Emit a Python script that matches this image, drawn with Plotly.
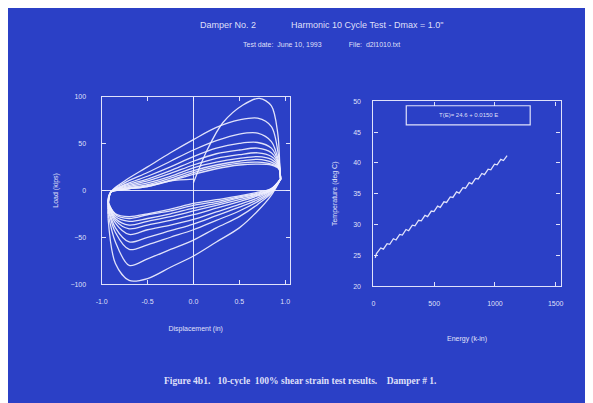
import plotly.graph_objects as go

# ---- hysteresis data (displacement in, load kips) ----
disp_up = [-0.93, -0.9, -0.75, -0.5, -0.25, 0.0, 0.25, 0.5, 0.7, 0.85, 0.93, 0.95]
disp_dn = [0.95, 0.85, 0.7, 0.5, 0.25, 0.0, -0.25, -0.5, -0.7, -0.85, -0.93]

virgin_disp = [0.0, 0.15, 0.32, 0.54, 0.72, 0.85, 0.92, 0.94, 0.95]
virgin_load = [8, 43, 72, 91, 98, 90, 60, 30, 12]

lower_loads = [
    [12, -5, -22, -40, -55, -70, -82, -94, -96, -78, -30],
    [12, -3, -15, -28, -40, -53, -63, -73, -80, -55, -25],
    [12, -2, -12, -22, -32, -42, -50, -58, -63, -45, -20],
    [12, -1, -10, -18, -27, -36, -43, -50, -55, -40, -18],
    [12, 0, -8, -15, -23, -31, -37, -42, -47, -35, -16],
    [12, 0, -6, -12, -19, -26, -32, -37, -41, -32, -15],
    [12, 1, -5, -10, -16, -22, -28, -33, -37, -30, -14],
    [12, 1, -4, -8, -14, -19, -25, -30, -33, -28, -13],
    [12, 2, -3, -7, -12, -16, -22, -26, -30, -26, -12],
    [12, 2, -2, -6, -10, -14, -20, -25, -28, -25, -12],
]

upper_loads = [
    [-30, -2, 10, 25, 40, 54, 67, 75, 77, 68, 35, 12],
    [-25, -2, 8, 19, 31, 43, 53, 60, 61, 52, 30, 12],
    [-20, -2, 6, 15, 25, 36, 45, 50, 51, 45, 28, 12],
    [-18, -2, 5, 12, 21, 31, 39, 43, 45, 40, 27, 12],
    [-16, -2, 4, 10, 18, 27, 34, 38, 40, 36, 26, 12],
    [-15, -2, 3, 8, 15, 24, 30, 34, 36, 33, 25, 12],
    [-14, -2, 2, 6, 13, 21, 27, 31, 33, 30, 24, 12],
    [-13, -2, 1, 5, 11, 19, 25, 29, 30, 28, 24, 12],
    [-12, -2, 1, 4, 10, 17, 23, 27, 28, 27, 23, 12],
]

final_disp = [-0.93, -0.9, -0.75, -0.5, -0.25, 0.0]
final_load = [-12, -2, 1, 4, 10, 12]

# ---- temperature vs energy ----
energy = [15, 25, 60, 82, 112, 134, 164, 186, 216, 238, 268, 290, 320, 342, 372, 394,
          424, 446, 476, 498, 528, 550, 580, 602, 632, 654, 684, 706, 736, 758, 788, 810,
          840, 862, 892, 914, 944, 966, 996, 1018, 1048, 1070, 1100]
temp = [24.6, 25.3, 26.2, 26.0, 26.9, 26.8, 27.7, 27.5, 28.4, 28.3, 29.2, 29.0, 29.9, 29.8,
        30.7, 30.6, 31.5, 31.3, 32.2, 32.1, 33.0, 32.8, 33.7, 33.6, 34.5, 34.4, 35.3, 35.1,
        36.0, 35.9, 36.8, 36.6, 37.5, 37.4, 38.3, 38.1, 39.0, 38.9, 39.8, 39.7, 40.6, 40.4, 41.2]

bg = '#2b40c6'
fg = 'rgba(240,240,255,0.92)'
line = dict(color=fg, width=1.3, shape='spline', smoothing=0.9)

fig = go.Figure()

# first cycle starts from the virgin loading curve
fig.add_trace(go.Scatter(x=virgin_disp + disp_dn, y=virgin_load + lower_loads[0],
                         mode='lines', line=line, xaxis='x', yaxis='y'))
for up, dn in zip(upper_loads, lower_loads[1:]):
    fig.add_trace(go.Scatter(x=disp_up + disp_dn, y=up + dn,
                             mode='lines', line=line, xaxis='x', yaxis='y'))
fig.add_trace(go.Scatter(x=final_disp, y=final_load, mode='lines', line=line,
                         xaxis='x', yaxis='y'))

fig.add_trace(go.Scatter(x=energy, y=temp, mode='lines',
                         line=dict(color=fg, width=1.3), xaxis='x2', yaxis='y2'))

ax = dict(showgrid=False, showline=True, linecolor=fg, linewidth=1.2, mirror='allticks',
          ticks='inside', ticklen=4, tickcolor=fg, tickfont=dict(size=7, color=fg, family='Arial'),
          zeroline=False)

fig.update_layout(
    width=593, height=403, showlegend=False,
    paper_bgcolor=bg, plot_bgcolor=bg,
    margin=dict(l=0, r=0, t=0, b=0),
    font=dict(family='Arial', color=fg),
    xaxis=dict(ax, domain=[0.1501, 0.4722], range=[-1.0, 1.05], tickvals=[-1, -0.5, 0, 0.5, 1],
               ticktext=['-1.0', '-0.5', '0.0', '0.5', '1.0'], anchor='y', ticklabelstandoff=10,
               zeroline=True, zerolinecolor=fg, zerolinewidth=1.2,
               title=dict(text='Displacement (in)', font=dict(size=7, color=fg), standoff=22)),
    yaxis=dict(ax, domain=[0.3127, 0.7866], range=[-100, 100], tickvals=[-100, -50, 0, 50, 100],
               anchor='x', ticklabelstandoff=13,
               zeroline=True, zerolinecolor=fg, zerolinewidth=1.2,
               title=dict(text='Load (kips)', font=dict(size=7, color=fg), standoff=10)),
    xaxis2=dict(ax, domain=[0.6155, 0.9359], range=[0, 1540], tickvals=[0, 500, 1000, 1500],
                anchor='y2', ticklabelstandoff=10,
                title=dict(text='Energy (k-in)', font=dict(size=7, color=fg), standoff=30)),
    yaxis2=dict(ax, domain=[0.3077, 0.7742], range=[20, 50], tickvals=[20, 25, 30, 35, 40, 45, 50],
                anchor='x2', ticklabelstandoff=10,
                title=dict(text='Temperature (deg C)', font=dict(size=7, color=fg), standoff=14)),
)

fig.add_shape(type='rect', xref='x2', yref='y2', x0=270, x1=1290, y0=46.2, y1=49.3,
              line=dict(color=fg, width=1.2))
fig.add_annotation(xref='x2', yref='y2', x=780, y=47.75, text='T(E)= 24.6 + 0.0150 E',
                   showarrow=False, font=dict(size=6, color=fg))

fig.add_annotation(xref='paper', yref='paper', x=0.526, y=1 - 13 / 403, yanchor='middle',
                   text='Damper No. 2' + '&nbsp;' * 14 + 'Harmonic 10 Cycle Test - Dmax = 1.0"',
                   showarrow=False, font=dict(size=9, color=fg))
fig.add_annotation(xref='paper', yref='paper', x=0.526, y=1 - 33 / 403, yanchor='middle',
                   text='Test date:  June 10, 1993' + '&nbsp;' * 14 + 'File:  d2l1010.txt',
                   showarrow=False, font=dict(size=7, color=fg))
fig.add_annotation(xref='paper', yref='paper', x=0.489, y=1 - 376 / 403, yanchor='middle',
                   text='<b>Figure 4b1.&nbsp;&nbsp; 10-cycle&nbsp; 100% shear strain test results.&nbsp;&nbsp;&nbsp; Damper # 1.</b>',
                   showarrow=False, font=dict(size=9.5, color=fg, family='Liberation Serif'))

fig.write_html("out.html")
